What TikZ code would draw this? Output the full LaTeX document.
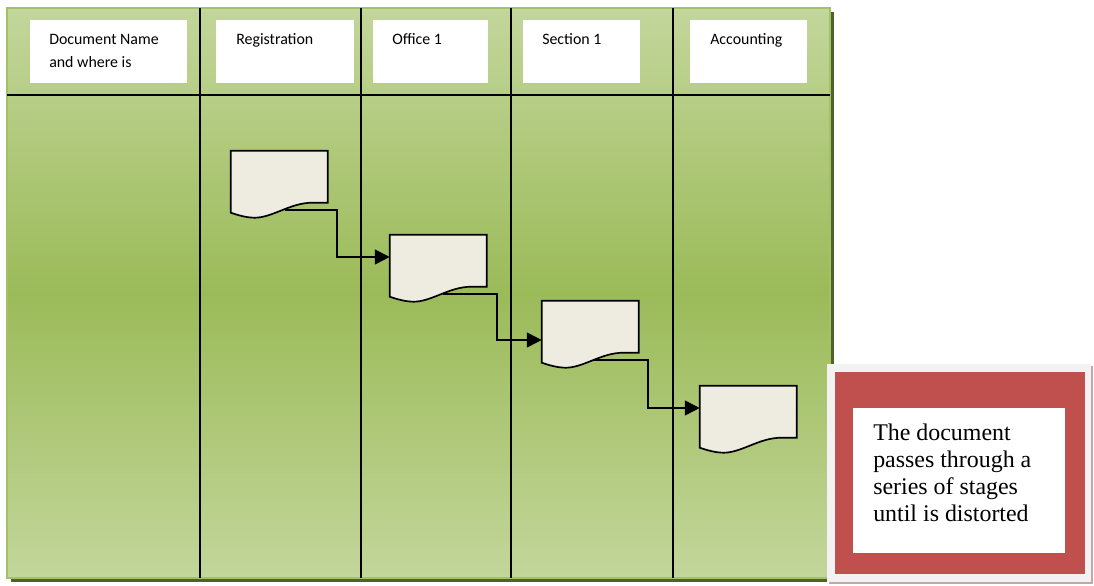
\documentclass[tikz,border=0pt]{standalone}
\usepackage{fontspec}
\setmainfont{Carlito}
\newfontfamily\notefont{Liberation Serif}
\usetikzlibrary{arrows.meta}

\definecolor{lanelight}{HTML}{C3D69B}
\definecolor{lanedark}{HTML}{9BBB59}
\definecolor{laneshadow}{HTML}{4F6228}
\definecolor{docfill}{HTML}{EEECE1}
\definecolor{notered}{HTML}{C0504D}
\definecolor{notegray}{HTML}{F2F2F2}
\definecolor{noteshadow}{HTML}{C9A6A6}

\tikzset{
  hdrbox/.style={fill=white, inner sep=0pt, anchor=north west, minimum height=1.575cm},
  hdrlabel/.style={inner sep=0pt, anchor=base west, align=left,
    font=\fontsize{11.3}{16}\selectfont},
  docnode/.style={inner sep=0pt, minimum width=2.425cm, minimum height=1.55cm},
  docline/.style={draw=black, line width=1.2pt, fill=docfill},
  laneline/.style={black, line width=1.4pt},
  flow/.style={line width=1.3pt, -{Triangle[length=0.37cm,width=0.37cm]}}
}

\begin{document}
\begin{tikzpicture}[x=0.025cm, y=0.025cm]
    \useasboundingbox (0,0) rectangle (1094,586);

    % swimlane frame
    \fill[laneshadow] (11,4) rectangle (834,574);
    \shade[top color=lanelight, bottom color=lanelight, middle color=lanedark]
      (7,8) rectangle (830,578);
    \draw[lanedark!80!lanelight, line width=2pt] (7,8) rectangle (830,578);

    \draw[laneline] (7,491) -- (830,491);
    \foreach \x in {200,361,511,673}
      \draw[laneline] (\x,8) -- (\x,578);

    % header boxes
    \node[hdrbox, minimum width=3.925cm] (h1) at (30,566) {};
    \node[hdrbox, minimum width=3.45cm] (h2) at (216,566) {};
    \node[hdrbox, minimum width=2.875cm] (h3) at (373,566) {};
    \node[hdrbox, minimum width=2.925cm] (h4) at (523,566) {};
    \node[hdrbox, minimum width=2.925cm] (h5) at (690,566) {};

    \node[hdrlabel] (l1) at ([shift={(19,-47.5)}]h1.north west) {Document Name\\and where is};
    \node[hdrlabel] (l2) at ([shift={(20,-25)}]h2.north west) {Registration};
    \node[hdrlabel] (l3) at ([shift={(19,-25)}]h3.north west) {Office 1};
    \node[hdrlabel] (l4) at ([shift={(19,-25)}]h4.north west) {Section 1};
    \node[hdrlabel] (l5) at ([shift={(20,-25)}]h5.north west) {Accounting};

    % documents
    \node[docnode] (d1) at (279.5,404) {};
    \node[docnode] (d2) at (438.5,320) {};
    \node[docnode] (d3) at (590.5,254) {};
    \node[docnode] (d4) at (748.5,169) {};

    \foreach \d in {d1,d2,d3,d4}
      \draw[docline, shift={(\d.north west)}] (0,0) -- (97,0) -- (97,-52) -- (82,-52)
        .. controls (70,-52) and (60,-56) .. (50,-60)
        .. controls (40,-64) and (32,-67) .. (24,-67)
        .. controls (15,-67) and (6,-64) .. (0,-62) -- cycle;

    \draw[flow] ([shift={(54,-59)}]d1.north west) -- ++(52,0) |- ([yshift=0.225cm]d2.west);
    \draw[flow] ([shift={(53,-59)}]d2.north west) -- ++(54,0) |- ([yshift=-0.2cm]d3.west);
    \draw[flow] ([shift={(51,-59)}]d3.north west) -- ++(55,0) |- ([yshift=0.225cm]d4.west);

    % note
    \fill[noteshadow] (829,2) rectangle (1093,220);
    \fill[notegray] (827,4) rectangle (1091,222);
    \fill[notered] (835,12) rectangle (1085,214);
    \node[fill=white, inner sep=0pt, minimum width=5.3cm, minimum height=3.625cm,
      anchor=south west] (nb) at (853,33) {};
    \node[inner sep=0pt, anchor=base west, align=left,
      font=\notefont\fontsize{17}{19.3}\selectfont] (nt) at (873,64)
      {The document\\passes through a\\series of stages\\until is distorted};

\end{tikzpicture}
\end{document}
